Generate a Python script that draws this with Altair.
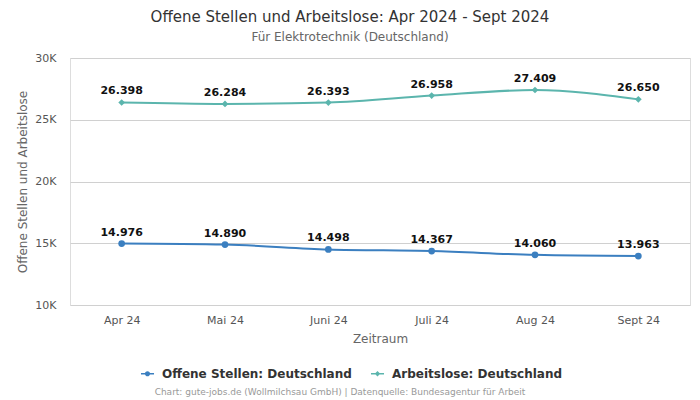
import altair as alt
import pandas as pd

months = ["Apr 24", "Mai 24", "Juni 24", "Juli 24", "Aug 24", "Sept 24"]
offene = [14976, 14890, 14498, 14367, 14060, 13963]
arbeitslose = [26398, 26284, 26393, 26958, 27409, 26650]
series_names = ["Offene Stellen: Deutschland", "Arbeitslose: Deutschland"]
colors = ["#3b7fc0", "#5bb5ad"]

rows = []
for name, vals in zip(series_names, [offene, arbeitslose]):
    for m, v in zip(months, vals):
        rows.append({"Monat": m, "Wert": v, "Serie": name,
                     "Label": f"{v:,}".replace(",", ".")})
df = pd.DataFrame(rows)

x = alt.X("Monat:N", sort=months, title="Zeitraum",
          scale=alt.Scale(type="point", padding=0.5),
          axis=alt.Axis(labelAngle=0, domain=False, ticks=False, labelPadding=9,
                        labelColor="#555", labelFontSize=11, titleColor="#666",
                        titleFontSize=12, titleFontWeight="normal", titlePadding=8))
y = alt.Y("Wert:Q", title="Offene Stellen und Arbeitslose",
          scale=alt.Scale(domain=[10000, 30000], nice=False, zero=False),
          axis=alt.Axis(values=[10000, 15000, 20000, 25000, 30000],
                        labelExpr="datum.value/1000 + 'K'", domain=False, ticks=False,
                        labelPadding=14, labelColor="#555", labelFontSize=11,
                        gridColor="#d0d0d0", titleColor="#666", titleFontSize=12,
                        titleFontWeight="normal", titlePadding=5))
color_scale = alt.Scale(domain=series_names, range=colors)

legend_shapes = [
    "M-1,-0.13 L1,-0.13 L1,0.13 L-1,0.13 Z M0.4,0 A0.4,0.4 0 1,1 -0.4,0 A0.4,0.4 0 1,1 0.4,0 Z",
    "M-1,-0.13 L1,-0.13 L1,0.13 L-1,0.13 Z M0,-0.42 L0.42,0 L0,0.42 L-0.42,0 Z",
]

base = alt.Chart(df)

line = base.mark_line(interpolate="monotone", strokeWidth=2).encode(
    x=x, y=y, color=alt.Color("Serie:N", scale=color_scale, legend=None))

pts = base.mark_point(filled=True, opacity=1, size=45).encode(
    x=x, y=y,
    color=alt.Color("Serie:N", scale=color_scale, legend=None),
    shape=alt.Shape("Serie:N", scale=alt.Scale(domain=series_names, range=["circle", "diamond"]), legend=None))

legend_layer = base.mark_point(filled=True, opacity=1, size=45).encode(
    x=x, y=y,
    color=alt.Color("Serie:N", scale=color_scale, title=None,
                    legend=alt.Legend(orient="none", legendX=70, legendY=308,
                                      direction="horizontal",
                                      symbolSize=170, labelFontSize=12,
                                      labelFontWeight="bold", labelColor="#333",
                                      labelLimit=400, columnPadding=18, labelOffset=7)),
    shape=alt.Shape("Serie:N", scale=alt.Scale(domain=series_names, range=legend_shapes), title=None)
).transform_filter("false")

labels = base.mark_text(fontSize=11, fontWeight="bold", color="#111", baseline="bottom", dy=-6).encode(
    x=x, y=y, text="Label:N")

footer = alt.Chart(pd.DataFrame({"t": ["Chart: gute-jobs.de (Wollmilchsau GmbH) | Datenquelle: Bundesagentur für Arbeit"]})).mark_text(
    fontSize=9, color="#999", align="center", baseline="middle").encode(
    x=alt.value(270), y=alt.value(334), text="t:N")

chart = alt.layer(line, pts, legend_layer, labels, footer).resolve_scale(
    color="independent", shape="independent"
).properties(
    width=620, height=247,
    title=alt.TitleParams("Offene Stellen und Arbeitslose: Apr 2024 - Sept 2024",
                          subtitle="Für Elektrotechnik (Deutschland)",
                          anchor="middle", dx=-30, fontSize=15, fontWeight="normal",
                          color="#333", subtitleFontSize=12, subtitleColor="#666",
                          subtitlePadding=7, offset=9),
    autosize=alt.AutoSizeParams(type="none"),
    padding={"left": 62, "top": 50, "right": 2, "bottom": 92},
).configure_view(stroke=None).configure(font="DejaVu Sans")

chart.save("out.html", embed_options={"renderer": "svg", "actions": False})
